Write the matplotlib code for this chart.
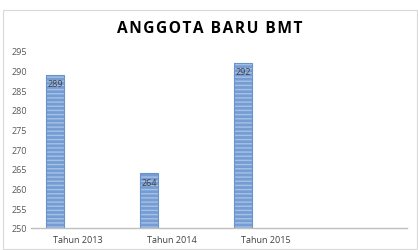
import matplotlib.pyplot as plt
from matplotlib.patches import Rectangle

# data
categories = ["Tahun 2013", "Tahun 2014", "Tahun 2015", ""]
anggota_baru = [289, 264, 292]
yticks = [250, 255, 260, 265, 270, 275, 280, 285, 290, 295]
title = "ANGGOTA BARU BMT"

plt.rcParams['font.family'] = ['Open Sans', 'DejaVu Sans']

fig = plt.figure(figsize=(4.18, 2.51), dpi=100)
ax = fig.add_axes([0.074, 0.088, 0.90, 0.705])

# outer chart border
fig.patches.append(Rectangle((0.007, 0.004), 0.990, 0.953, transform=fig.transFigure,
                             fill=False, edgecolor='#d9d9d9', linewidth=0.8))

x = list(range(len(anggota_baru)))
xb = [i - 0.245 for i in x]
bottom = yticks[0]
heights = [v - bottom for v in anggota_baru]

# striped fill, then outline
ax.bar(xb, heights, width=0.19, bottom=bottom, color='#769dd3',
       edgecolor='#a6c1e6', hatch='----', linewidth=0)
ax.bar(xb, heights, width=0.19, bottom=bottom, fill=False,
       edgecolor='#6a93cc', linewidth=0.8)

for xi, v in zip(xb, anggota_baru):
    ax.text(xi, v - 1.2, str(v), ha='center', va='top', fontsize=6.5, color='#404040')

ax.set_xlim(-0.5, len(categories) - 0.5)
ax.set_ylim(250, 295)
ax.set_yticks(yticks)
ax.set_yticklabels([str(t) for t in yticks], fontsize=6.5, color='#595959')
ax.set_xticks(range(len(categories)))
ax.set_xticklabels(categories, fontsize=6.5, color='#404040')
ax.tick_params(length=0, pad=5)
ax.tick_params(axis='y', pad=3)

for s in ['top', 'right', 'left']:
    ax.spines[s].set_visible(False)
ax.spines['bottom'].set_color('#bfbfbf')
ax.spines['bottom'].set_linewidth(1.0)

fig.text(0.502, 0.884, "\u200a".join(title), ha='center', va='center',
         fontsize=11.2, fontweight='bold', color='#000000')

fig.savefig("out.png", dpi=100)
